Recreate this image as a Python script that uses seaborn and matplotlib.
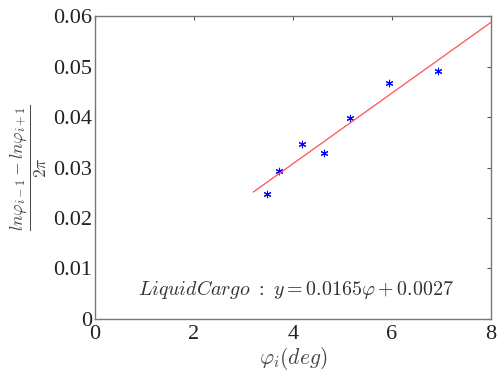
#!/usr/bin/env python3
import matplotlib
matplotlib.use("Agg")
import matplotlib.pyplot as plt
import seaborn as sns
import pandas as pd

phi = [3.48, 3.72, 4.19, 4.62, 5.16, 5.94, 6.92]
ratio = [0.0247, 0.0294, 0.0347, 0.0329, 0.0398, 0.0467, 0.0492]

# fitted line as drawn
fit_x = [3.2, 8.0]
slope = 0.00701
intercept = 0.0027

xticks = [0, 2, 4, 6, 8]
yticks = [0, 0.01, 0.02, 0.03, 0.04, 0.05, 0.06]

df = pd.DataFrame({"phi": phi, "ratio": ratio})
fit = pd.DataFrame({"x": fit_x, "y": [slope * v + intercept for v in fit_x]})

sns.set_style("white")
plt.rcParams["font.family"] = ["Liberation Serif", "DejaVu Serif"]
plt.rcParams["mathtext.fontset"] = "cm"

fig, ax = plt.subplots(figsize=(4.99, 3.76), dpi=100)
fig.subplots_adjust(left=0.19, right=0.984, top=0.957, bottom=0.152)

sns.lineplot(data=fit, x="x", y="y", ax=ax, color="#ff5050", linewidth=0.9)
sns.scatterplot(data=df, x="phi", y="ratio", ax=ax, marker=(6, 2, 0), s=22,
                color="blue", edgecolor="blue", linewidth=0.8)

ax.set_xlim(0, 8)
ax.set_ylim(0, 0.06)
ax.set_xticks(xticks)
ax.set_yticks(yticks)
ax.set_xticklabels([str(t) for t in xticks])
ax.set_yticklabels(["0"] + [f"{t:.2f}" for t in yticks[1:]])
ax.tick_params(direction="in", top=True, right=True, length=3, width=0.8,
               colors="#555555", labelsize=16, labelcolor="#222222", pad=2)
ax.tick_params(axis="x", pad=4.5)
for s in ax.spines.values():
    s.set_color("#777777")
    s.set_linewidth(1.0)

ax.set_xlabel(r"$\varphi_i(deg)$", fontsize=15.5, color="#444444", labelpad=0.5)
ax.set_ylabel(r"$\frac{ln\varphi_{i-1}-ln\varphi_{i+1}}{2\pi}$", fontsize=18,
              color="#444444", labelpad=2)
ax.text(0.87, 0.0059, r"$LiquidCargo\ :\ y=0.0165\varphi+0.0027$", fontsize=14.4,
        color="#333333", va="center")

fig.savefig("out.png", dpi=100)
